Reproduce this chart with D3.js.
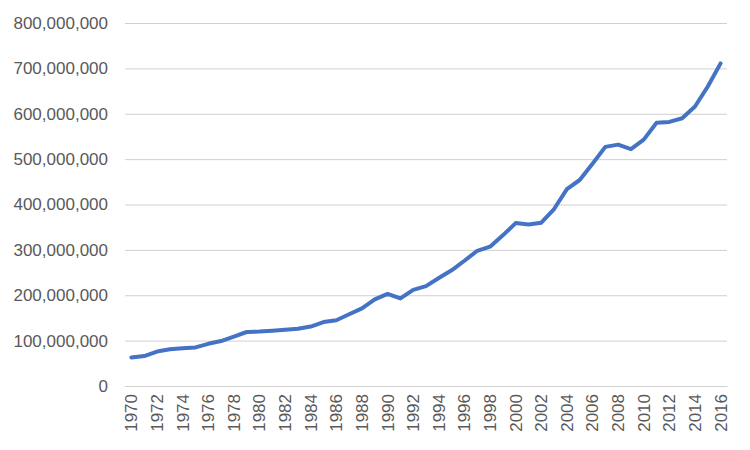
<!DOCTYPE html>
<html>
<head>
<meta charset="utf-8">
<script src="https://cdn.jsdelivr.net/npm/d3@7"></script>
<style>
  body { margin: 0; background: #fff; }
  svg text { font-family: "Liberation Sans", Arial, sans-serif; fill: #595959; }
</style>
</head>
<body>
<svg id="chart" width="750" height="450"></svg>
<script>
// values in millions
const years = d3.range(1970, 2017);
const values = [
  63, 66, 76, 81, 83, 85, 93, 99, 109, 119,
  120, 122, 124, 126, 131, 141, 145, 158, 171, 191,
  203, 193, 212, 220, 238, 255, 276, 298, 307, 332,
  359, 356, 360, 390, 434, 454, 490, 527, 532, 522,
  543, 580, 582, 590, 616, 660, 711
];
const yTicks = [0, 100, 200, 300, 400, 500, 600, 700, 800];
const xTickYears = years.filter(y => y % 2 === 0);

const width = 750, height = 450;
const margin = {top: 23, right: 23, bottom: 64, left: 125};

const svg = d3.select("#chart");

const x = d3.scaleBand()
  .domain(years)
  .range([margin.left, width - margin.right]);

const y = d3.scaleLinear()
  .domain([0, 800])
  .range([height - margin.bottom, margin.top]);

const fmt = d3.format(",");

// gridlines + y labels
const yAxis = d3.axisLeft(y)
  .tickValues(yTicks)
  .tickSize(-(width - margin.left - margin.right))
  .tickPadding(17)
  .tickFormat(d => fmt(d * 1e6));

svg.append("g")
  .attr("transform", `translate(${margin.left},0)`)
  .call(yAxis)
  .call(g => g.select(".domain").remove())
  .call(g => g.selectAll(".tick line").attr("stroke", "#d0d0d0").attr("stroke-width", 1))
  .call(g => g.selectAll(".tick text").style("font-size", "17px").attr("fill", "#595959"));

// x axis
const xAxis = d3.axisBottom(x)
  .tickValues(xTickYears)
  .tickSize(0)
  .tickPadding(0);

svg.append("g")
  .attr("transform", `translate(0,${height - margin.bottom})`)
  .call(xAxis)
  .call(g => g.select(".domain").attr("stroke", "#d0d0d0"))
  .call(g => g.selectAll(".tick text")
    .style("font-size", "17px")
    .attr("fill", "#595959")
    .attr("text-anchor", "end")
    .attr("transform", "rotate(-90)")
    .attr("x", -8)
    .attr("y", 0)
    .attr("dy", "0.35em"));

// line
const line = d3.line()
  .x((d, i) => x(years[i]) + x.bandwidth() / 2)
  .y(d => y(d));

svg.append("path")
  .datum(values)
  .attr("fill", "none")
  .attr("stroke", "#4472C4")
  .attr("stroke-width", 4)
  .attr("stroke-linejoin", "round")
  .attr("stroke-linecap", "round")
  .attr("d", line);
</script>
</body>
</html>
